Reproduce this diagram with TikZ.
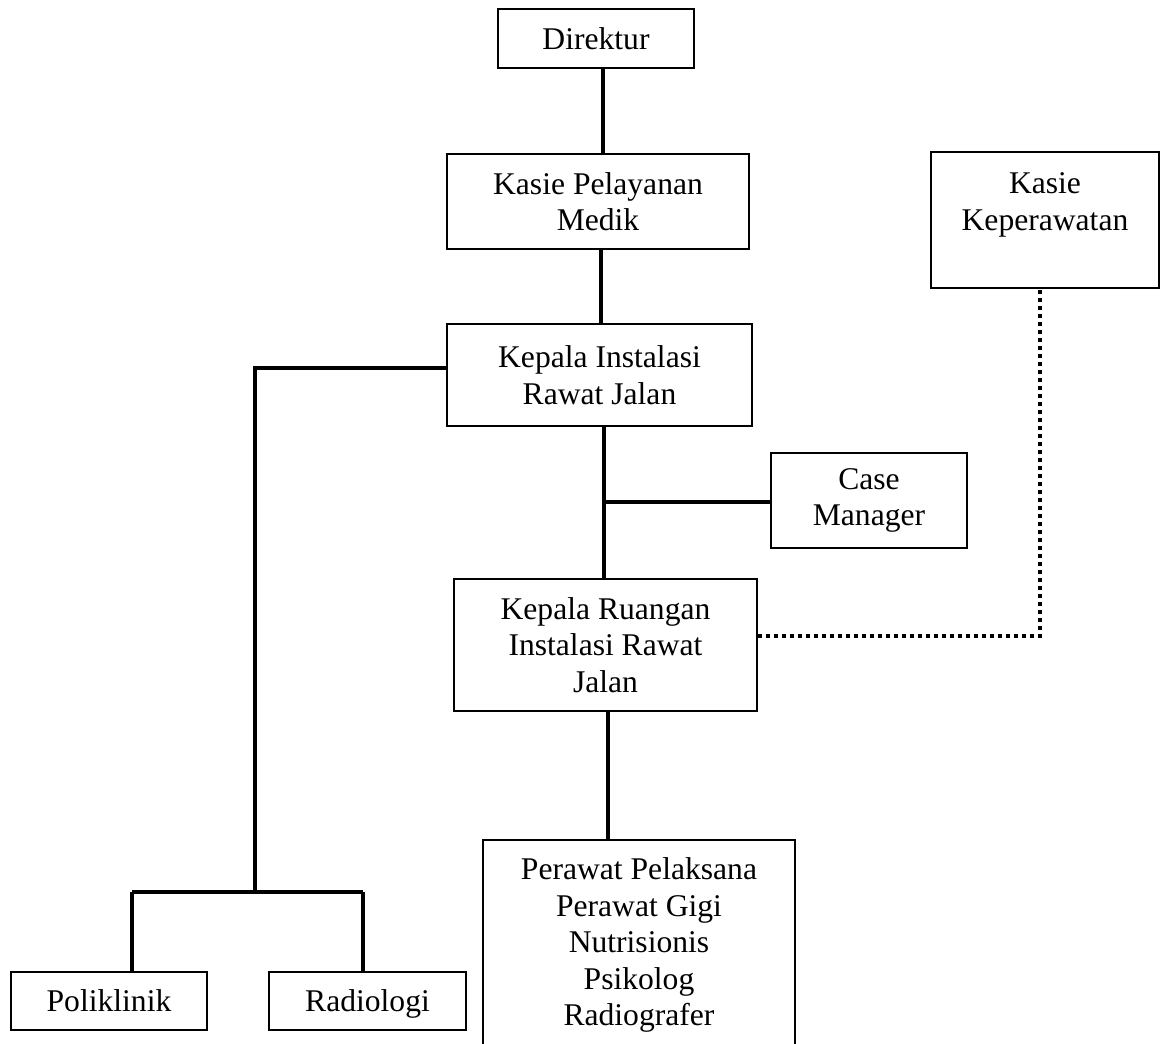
\documentclass[tikz,border=0pt]{standalone}
\usepackage{fontspec}
\setmainfont{Liberation Serif}
\begin{document}
\begin{tikzpicture}[x=0.5pt,y=-0.5pt,
  box/.style={draw, line width=0.9pt, inner sep=0pt, align=center,
    font=\fontsize{15.8pt}{18.25pt}\selectfont},
  link/.style={line width=2pt},
  dotlink/.style={line width=2pt, dash pattern=on 2pt off 2pt}]
\useasboundingbox (0,0) rectangle (1163,1044);
\clip (0,0) rectangle (1163,1044);

% units
\node[box, minimum width=98pt,   minimum height=29.5pt] (dir)  at (596,38.5)   {Direktur};
\node[box, minimum width=151pt,  minimum height=47.5pt] (kpm)  at (598,201.5)  {Kasie Pelayanan\\Medik};
\node[box, minimum width=152.5pt,minimum height=51pt]   (kirj) at (599.5,375)  {Kepala Instalasi\\Rawat Jalan};
\node[box, minimum width=98pt,   minimum height=47.5pt] (cm)   at (869,500.5)  {Case\\Manager};
\node[box, minimum width=151.5pt,minimum height=66pt]   (kr)   at (605.5,645)  {Kepala Ruangan\\Instalasi Rawat\\Jalan};
\node[box, minimum width=114pt,  minimum height=68pt]   (kk)   at (1045,220)   {Kasie\\Keperawatan\\\mbox{}};
\node[box, minimum width=156pt,  minimum height=105pt]  (pw)   at (639,945)    {Perawat Pelaksana\\Perawat Gigi\\Nutrisionis\\Psikolog\\Radiografer};
\node[box, minimum width=98pt,   minimum height=29pt]   (pk)   at (109,1001)   {Poliklinik};
\node[box, minimum width=98.5pt, minimum height=29pt, text depth=0pt] (rd) at (367.5,1001) {Radiologi};

% vertical spines of the main chain
\coordinate (s1) at (603,0);
\coordinate (s2) at (601,0);
\coordinate (s3) at (604,0);
\coordinate (s4) at (608,0);
\draw[link] (s1 |- dir.south)  -- (s1 |- kpm.north);
\draw[link] (s2 |- kpm.south)  -- (s2 |- kirj.north);
\draw[link] (s3 |- kirj.south) -- (s3 |- kr.north);
\draw[link] (s4 |- kr.south)   -- (s4 |- pw.north);

% case manager branch
\coordinate (cmj) at (604,502);
\draw[link] (cmj) -- (cmj -| cm.west);

% left branch to poliklinik and radiologi
\coordinate (lb)  at (255,368);
\coordinate (lj)  at (255,892);
\coordinate (pkj) at (132,892);
\coordinate (rdj) at (363,892);
\draw[link] (lb -| kirj.west) -- (lb) -- (lj);
\draw[link] (pkj) -- (rdj);
\draw[link] (pkj) -- (pkj |- pk.north);
\draw[link] (rdj) -- (rdj |- rd.north);

% coordination line to kasie keperawatan
\coordinate (dc) at (1040,636);
\draw[dotlink] (dc -| kr.east) -- (dc) -- (dc |- kk.south);
\end{tikzpicture}
\end{document}
